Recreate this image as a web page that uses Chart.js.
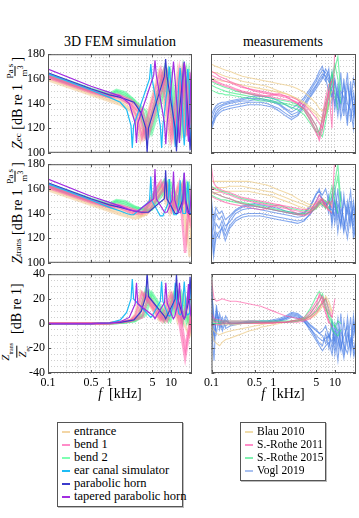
<!DOCTYPE html>
<html>
<head>
<meta charset="utf-8">
<title>Z_ec and Z_trans: simulation vs. measurements</title>
<script src="https://cdn.jsdelivr.net/npm/chart.js@4.4.1/dist/chart.umd.min.js"></script>
<style>
  html, body { margin: 0; padding: 0; background: #fff; }
  body { width: 359px; height: 518px; position: relative; overflow: hidden;
         font-family: "Liberation Serif", "DejaVu Serif", serif; color: #000; }
  canvas { position: absolute; }
  .txt { position: absolute; white-space: nowrap; }
  .title { font-size: 14px; top: 34px; transform: translateX(-50%); }
  .xlab { font-size: 14px; top: 386px; transform: translateX(-50%); }
  .ylab { font-size: 14px; left: 17px; transform: translate(-50%, -50%) rotate(-90deg);
          display: flex; align-items: center; }
  .frac { display: inline-flex; flex-direction: column; align-items: center;
          font-size: 9px; line-height: 9px; margin: 0 2px; }
  .frac span + span { border-top: 0.8px solid #000; }
  .frac.big { font-size: 11px; line-height: 11px; }
  .legend { position: absolute; border: 1px solid #555; background: #fff;
            line-height: 13px; padding: 2px 4px 4px 4px; box-sizing: border-box;
            box-shadow: 1px 1px 0 #bbb; }
  .legend div { white-space: nowrap; }
  .legend i { display: inline-block; width: 8px; height: 2px; vertical-align: middle; margin-right: 4px; }
</style>
</head>
<body>

<div class="txt title" style="left:120px">3D FEM simulation</div>
<div class="txt title" style="left:283px">measurements</div>

<div class="txt ylab" style="top:103px"><i>Z</i><sub style="font-size:9px">ec</sub>&nbsp;[dB re 1&nbsp;<span class="frac"><span>Pa s</span><span>m<sup>3</sup></span></span>]</div>
<div class="txt ylab" style="top:213px"><i>Z</i><sub style="font-size:9px">trans</sub>&nbsp;[dB re 1&nbsp;<span class="frac"><span>Pa s</span><span>m<sup>3</sup></span></span>]</div>
<div class="txt ylab" style="top:323px"><span class="frac big"><span><i>Z</i><sub style="font-size:6px">trans</sub></span><span><i>Z</i><sub style="font-size:6px">ec</sub></span></span>&nbsp;&nbsp;[dB re 1]</div>

<canvas id="simZec" width="196" height="119" style="left:0;top:44px"></canvas>
<canvas id="simZtrans" width="196" height="119" style="left:0;top:154px"></canvas>
<canvas id="simRatio" width="196" height="133" style="left:0;top:264px"></canvas>
<canvas id="measZec" width="158" height="119" style="left:201px;top:44px"></canvas>
<canvas id="measZtrans" width="158" height="119" style="left:201px;top:154px"></canvas>
<canvas id="measRatio" width="158" height="133" style="left:201px;top:264px"></canvas>

<div class="txt xlab" style="left:120px"><i>f</i> &nbsp;[kHz]</div>
<div class="txt xlab" style="left:283px"><i>f</i> &nbsp;[kHz]</div>

<div class="legend" style="left:57px;top:422px;width:126px;height:85px;font-size:12.5px">
  <div><i style="background:#f3d6a6"></i>entrance</div>
  <div><i style="background:#ff8cc8"></i>bend 1</div>
  <div><i style="background:#7effb2"></i>bend 2</div>
  <div><i style="background:#1ebcf5"></i>ear canal simulator</div>
  <div><i style="background:#3b3bcc"></i>parabolic horn</div>
  <div><i style="background:#a12de0"></i>tapered parabolic horn</div>
</div>
<div class="legend" style="left:240px;top:422px;width:86px;height:59px;font-size:11.5px">
  <div><i style="background:#f0dcaa"></i>Blau 2010</div>
  <div><i style="background:#ff8cc8"></i>S.-Rothe 2011</div>
  <div><i style="background:#80f0b0"></i>S.-Rothe 2015</div>
  <div><i style="background:#a9c1f0"></i>Vogl 2019</div>
</div>

<script>
// axis grid and tick labels
const xGrid = [0.1, 0.2, 0.3, 0.4, 0.5, 0.6, 0.7, 0.8, 0.9, 1, 2, 3, 4, 5, 6, 7, 8, 9, 10, 20];
const xTickLabels = [0.1, 0.5, 1, 5, 10];
const zTickLabels = [100, 120, 140, 160, 180];
const ratioTickLabels = [-40, -20, 0, 20, 40];

// ---- 3D FEM simulation (f in kHz, values in dB) ----
const ecsF = [0.1, 0.5, 1, 1.5, 1.9, 2.24, 2.35, 2.47, 4.48, 4.7, 4.94, 6.71, 7.05, 7.4, 8.95, 9.4, 9.87, 11.19, 11.75, 12.34, 13.43, 14.1, 14.8, 15.67, 16.45, 17.27, 17.9, 18.8, 19.74, 20.14, 21.15, 22];
const ecsZec = [164, 151, 145, 141, 135, 122, 104, 122, 160, 172, 160, 122, 104, 122, 158, 170, 158, 122, 105, 122, 157, 169, 157, 123, 106, 123, 156, 168, 156, 124, 107, 124];
const ecsZtrans = [164, 151, 145, 142, 140, 139, 139, 139, 150, 170, 150, 138, 138, 138, 148, 168, 148, 139, 139, 139, 149, 167, 149, 140, 140, 140, 150, 166, 150, 141, 141, 141];
const ecsRatio = [0, 0, 0.5, 3, 9, 20, 36, 20, 6, 5, 6, 18, 34, 18, 7, 6, 7, 18, 33, 18, 8, 7, 8, 19, 34, 19, 8, 7, 8, 18, 32, 18];

const phF = [0.1, 0.5, 1, 1.5, 2.5, 3.3, 3.9, 4.1, 4.31, 7.81, 8.2, 8.61, 11.71, 12.3, 12.92, 15.62, 16.4, 17.22, 19.52, 20.5, 21.5, 22];
const phZec = [165, 152, 147, 145, 141, 132, 120, 100, 120, 162, 176, 162, 120, 101, 120, 162, 174, 162, 121, 102, 121, 128];
const phZtrans = [165, 152, 147, 145, 142, 141, 141, 141, 141, 152, 175, 152, 140, 140, 140, 151, 173, 151, 140, 140, 140, 141];
const phRatio = [0, 0, 0.5, 1, 3, 10, 22, 42, 22, 6, 4, 6, 20, 40, 20, 6, 4, 6, 19, 38, 19, 13];

const tphF = [0.1, 0.5, 1, 1.5, 2.1, 2.62, 2.75, 2.89, 5.24, 5.5, 5.78, 7.86, 8.25, 8.66, 10.48, 11, 11.55, 13.1, 13.75, 14.44, 15.71, 16.5, 17.33, 18.33, 19.25, 20.21, 21, 22];
const tphZec = [168, 154, 149, 146, 140, 124, 108, 124, 163, 175, 163, 124, 107, 124, 162, 174, 162, 125, 108, 125, 161, 173, 161, 125, 109, 125, 160, 172];
const tphZtrans = [168, 154, 149, 146, 143, 142, 142, 142, 152, 176, 152, 141, 141, 141, 151, 174, 151, 141, 141, 141, 150, 173, 150, 141, 141, 141, 150, 172];
const tphRatio = [0, 0, 0.5, 1.5, 5, 16, 33, 16, 6, 4, 6, 17, 33, 17, 6, 4, 6, 17, 33, 17, 6, 4, 6, 17, 32, 17, 7, 4];

const ent1F = [0.1, 0.5, 1, 1.5, 2.2, 2.6, 3.2, 6.4, 9.6, 12.8, 16, 19.2, 22];
const ent1Zec = [159, 147, 142, 139, 134, 128, 110, 166, 111, 165, 112, 164, 120];
const ent1Ztrans = [159, 147, 142, 139, 137, 136, 137, 164, 140, 162, 140, 160, 110];
const ent1Ratio = [0, 0, 0.3, 1, 3, 7, 26, 3, 25, 2, 24, 0, -10];

const ent2F = [0.1, 0.5, 1, 1.5, 2.2, 2.9, 3.6, 7.2, 10.8, 14.4, 18, 21.6, 22];
const ent2Zec = [160.5, 148.5, 143.5, 141, 136, 129, 112, 164, 113, 163, 114, 162, 150];
const ent2Ztrans = [160.5, 148.5, 143.5, 141, 139, 138, 138, 162, 141, 160, 120, 155, 150];
const ent2Ratio = [0, 0, 0.3, 1, 2.5, 6, 24, 2, 24, 1, 6, -5, 0];

const ent3F = [0.1, 0.5, 1, 1.5, 2.2, 3.2, 4, 8, 12, 16, 20, 22];
const ent3Zec = [162, 150, 145, 143, 139, 131, 113, 165, 114, 164, 115, 135];
const ent3Ztrans = [162, 150, 145, 143, 141, 139, 139, 163, 142, 161, 105, 130];
const ent3Ratio = [0, 0, 0.2, 0.8, 2, 6, 26, 2, 25, 1, -10, -5];

const bendA1F = [0.1, 0.5, 1, 1.4, 2.2, 2.7, 3.4, 6.8, 10.2, 13.6, 17, 20.4, 22];
const bendA1Zec = [161, 149, 145, 145, 139, 131, 112, 167, 112, 166, 113, 165, 140];
const bendA1Ztrans = [161, 149, 145, 145, 141, 140, 140, 166, 142, 164, 108, 160, 145];
const bendA1Ratio = [0, 0, 0.3, 1, 2.5, 7, 25, 3, 24, 2, -28, -3, 5];

const bendA2F = [0.1, 0.5, 1, 1.4, 2.2, 3, 3.8, 7.6, 11.4, 15.2, 19, 22];
const bendA2Zec = [162, 150, 146, 146.5, 141, 133, 113, 166, 113, 165, 114, 160];
const bendA2Ztrans = [162, 150, 146, 146.5, 143, 141, 141, 165, 143, 163, 140, 150];
const bendA2Ratio = [0, 0, 0.3, 1, 2.5, 6, 24, 2, 23, 1, 22, -8];

const bendA3F = [0.1, 0.5, 1, 1.4, 2.2, 3.4, 4.3, 8.6, 12.9, 17.2, 21.5, 22];
const bendA3Zec = [163, 151, 147, 147, 143, 135, 114, 165, 114, 164, 115, 125];
const bendA3Ztrans = [163, 151, 147, 147, 144, 141, 141, 164, 143, 150, 130, 135];
const bendA3Ratio = [0, 0, 0.2, 0.8, 2, 5, 22, 2, 22, -20, 8, 5];

const bendB1F = [0.1, 0.5, 1, 1.3, 1.8, 2.6, 3.6, 4.5, 9, 13.5, 18, 22];
const bendB1Zec = [162, 150, 146, 149, 146, 140, 132, 115, 167, 115, 166, 130];
const bendB1Ztrans = [162, 150, 146, 149, 147, 144, 142, 142, 166, 144, 164, 140];
const bendB1Ratio = [0, 0, 0.2, 0.5, 1, 2, 8, 26, 2, 26, 1, 14];

const bendB2F = [0.1, 0.5, 1, 1.3, 1.8, 2.6, 3.9, 4.9, 9.8, 14.7, 19.6, 22];
const bendB2Zec = [163, 151, 147, 150, 147.5, 142, 134, 116, 166, 116, 165, 140];
const bendB2Ztrans = [163, 151, 147, 150, 148.5, 145, 143, 143, 165, 145, 163, 145];
const bendB2Ratio = [0, 0, 0.2, 0.5, 1, 2, 7, 25, 2, 25, 1, 8];

const bendB3F = [0.1, 0.5, 1, 1.3, 1.8, 2.5, 3.1, 3.9, 7.8, 11.7, 15.6, 19.5, 22];
const bendB3Zec = [164, 152, 148, 151, 149, 143, 135, 114, 168, 114, 167, 115, 145];
const bendB3Ztrans = [164, 152, 148, 151, 150, 146, 144, 144, 167, 145, 165, 146, 150];
const bendB3Ratio = [0, 0, 0.2, 0.5, 1, 2.5, 8, 28, 2, 27, 1, 26, 6];

// ---- measurements (shared frequency grid, kHz) ----
const measF = [0.1, 0.11, 0.12, 0.135, 0.15, 0.17, 0.2, 0.25, 0.32, 0.4, 0.5, 0.63, 0.8, 1, 1.25, 1.6, 2, 2.5, 3.2, 4, 5, 5.6, 6.3, 7.1, 8, 9, 10, 11.2, 12.5, 14, 16, 18, 20, 22];

const vogl1Zec = [120, 128, 133, 136, 138, 139, 140, 141, 142, 142, 143, 143, 142, 141, 139, 135, 131, 133, 140, 148, 155, 160, 164, 162, 158, 150, 140, 155, 135, 160, 128, 150, 138, 125];
const vogl2Zec = [126, 132, 136, 138, 139, 140, 141, 142, 143, 144, 144, 144, 143, 142, 140, 136, 133, 136, 143, 150, 158, 163, 167, 165, 160, 145, 158, 138, 165, 130, 155, 140, 160, 150];
const vogl3Zec = [118, 124, 129, 132, 134, 135, 136, 137, 138, 139, 139, 139, 138, 137, 134, 130, 127, 130, 137, 145, 152, 156, 160, 168, 163, 155, 148, 130, 150, 145, 122, 158, 130, 145];
const vogl4Zec = [130, 135, 138, 140, 141, 141, 142, 143, 144, 145, 146, 146, 145, 144, 142, 139, 136, 139, 145, 152, 160, 166, 170, 160, 150, 165, 135, 150, 128, 140, 165, 125, 148, 135];
const vogl5Zec = [122, 126, 131, 134, 136, 137, 138, 139, 140, 141, 141, 141, 140, 138, 136, 132, 129, 131, 139, 146, 154, 158, 162, 158, 168, 140, 160, 145, 140, 155, 140, 135, 120, 160];
const rothe11aZec = [163, 162, 161, 160, 159, 158, 157, 155, 153, 152, 151, 150, 149, 148, 147, 146, 145, 143, 138, 130, 122, 115, 125, 140, 150, 120, 185];
const rothe11bZec = [160, 159, 158, 157, 156, 155, 154, 152, 150, 149, 148, 147, 146, 145, 144, 143, 142, 140, 135, 126, 116, 112, 130, 145, 155, 158];
const rothe11cZec = [166, 165, 164, 162, 161, 160, 158, 156, 154, 152, 150, 149, 148, 147, 146, 145, 143, 141, 139, 134, 128, 124, 120, 132, 148, 160];
const rothe11dZec = [158, 158, 157, 156, 155, 154, 153, 151, 149, 148, 147, 146, 146, 147, 148, 146, 143, 140, 136, 128, 118, 110, 118, 135, 150];
const rothe15aZec = [158, 157, 156, 155, 154, 153, 152, 150, 149, 148, 147, 146, 145, 144, 143, 142, 141, 139, 136, 130, 122, 116, 113, 125, 140, 155, 168, 178, 150];
const rothe15bZec = [155, 154, 153, 152, 151, 150, 149, 148, 147, 146, 145, 144, 143, 142, 141, 140, 139, 138, 134, 127, 118, 114, 120, 132, 145, 160, 172, 160, 140];
const rothe15cZec = [151, 150, 149, 148, 148, 147, 147, 146, 145, 144, 143, 142, 142, 141, 140, 139, 137, 135, 131, 124, 117, 118, 128, 140, 152, 165, 150, 135];
const blau1Zec = [172, 171, 170, 169, 168, 167, 166, 164, 162, 161, 160, 159, 158, 157, 156, 155, 154, 152, 149, 145, 140, 136, 134, 138, 145, 150];
const blau2Zec = [166, 165, 165, 164, 163, 162, 161, 160, 158, 157, 156, 155, 154, 152, 150, 148, 146, 144, 141, 137, 133, 130, 128, 132, 140];
const blau3Zec = [160, 160, 159, 159, 158, 158, 157, 156, 155, 154, 153, 152, 151, 150, 149, 148, 146, 143, 140, 135, 131, 127, 125, 130, 138, 145];

const vogl1Ztrans = [150, 128, 140, 135, 138, 130, 133, 140, 143, 144, 144, 143, 142, 141, 140, 139, 138, 137, 138, 142, 150, 155, 152, 148, 145, 140, 150, 135, 158, 128, 150, 135, 145, 125];
const vogl2Ztrans = [140, 118, 132, 128, 134, 126, 136, 142, 145, 146, 146, 145, 144, 143, 142, 141, 140, 139, 140, 145, 155, 160, 150, 145, 150, 135, 160, 140, 130, 155, 128, 150, 120, 140];
const vogl3Ztrans = [135, 110, 125, 120, 130, 122, 130, 136, 139, 140, 140, 140, 139, 138, 137, 136, 135, 134, 135, 139, 147, 150, 146, 150, 140, 155, 132, 148, 140, 125, 145, 130, 150, 135];
const vogl4Ztrans = [155, 135, 145, 140, 142, 135, 138, 143, 146, 147, 148, 147, 146, 145, 144, 142, 141, 140, 141, 146, 156, 158, 155, 160, 150, 142, 138, 160, 130, 150, 140, 158, 130, 150];
const vogl5Ztrans = [128, 105, 120, 125, 128, 118, 128, 134, 137, 138, 138, 138, 137, 136, 135, 134, 133, 132, 134, 140, 145, 148, 152, 145, 155, 130, 150, 125, 145, 135, 120, 140, 128, 118];
const rothe11aZtrans = [180, 165, 162, 160, 159, 158, 157, 155, 153, 152, 151, 150, 149, 148, 147, 146, 145, 144, 143, 144, 148, 152, 150, 148, 150, 145, 185];
const rothe11bZtrans = [162, 160, 159, 158, 157, 156, 155, 153, 151, 150, 149, 148, 147, 146, 145, 144, 143, 142, 141, 142, 146, 150, 148, 145, 148, 150];
const rothe11cZtrans = [158, 157, 156, 155, 154, 153, 152, 150, 148, 147, 146, 145, 144, 143, 142, 141, 140, 139, 138, 140, 145, 148, 152, 147, 143, 140];
const rothe11dZtrans = [154, 153, 152, 151, 150, 149, 148, 147, 146, 145, 144, 143, 144, 146, 147, 145, 142, 140, 139, 141, 150, 155, 150, 146, 142];
const rothe15aZtrans = [162, 161, 160, 159, 158, 157, 156, 154, 152, 151, 150, 149, 148, 147, 146, 145, 144, 143, 142, 143, 146, 150, 152, 150, 148, 155, 165, 180, 150];
const rothe15bZtrans = [158, 157, 156, 155, 154, 153, 152, 150, 149, 148, 147, 146, 145, 144, 143, 142, 141, 140, 140, 141, 144, 147, 150, 146, 144, 150, 158, 170, 145];
const rothe15cZtrans = [155, 154, 153, 152, 151, 151, 150, 149, 148, 147, 146, 145, 144, 143, 142, 141, 140, 139, 139, 141, 145, 149, 147, 144, 150, 162, 150, 140];
const blau1Ztrans = [166, 166, 166, 166, 166, 166, 166, 166, 166, 166, 165, 164, 163, 161, 159, 157, 155, 152, 149, 147, 148, 150, 152, 150, 148, 147];
const blau2Ztrans = [160, 160, 161, 161, 161, 161, 162, 162, 162, 161, 160, 159, 158, 157, 155, 153, 151, 149, 147, 145, 146, 148, 147, 146, 145];
const blau3Ztrans = [156, 156, 157, 157, 158, 158, 158, 158, 158, 158, 157, 156, 155, 154, 152, 150, 148, 146, 144, 142, 144, 146, 148, 145, 143, 141];

const vogl1Ratio = [30, 0, 8, -2, 5, -4, -2, -1, 0, 1, 1, 1, 1, 1, 2, 4, 6, 5, 2, -4, -10, -12, -14, -12, -10, -15, 0, -20, 8, -25, 5, -18, 0, -15];
const vogl2Ratio = [10, -10, 12, 0, -3, 6, -1, 0, 1, 1, 1, 2, 2, 2, 3, 5, 8, 7, 3, -2, -6, -8, -10, -16, -8, -20, -5, -12, -22, 2, -18, 5, -25, -10];
const vogl3Ratio = [20, -15, 5, 5, -6, 2, 0, 0, 0, 0, 0, 0, 1, 1, 2, 3, 5, 4, 1, -4, -12, -16, -18, -8, -20, 3, -25, -5, -15, -28, -8, -20, 6, -12];
const vogl4Ratio = [-5, -30, 15, -5, 2, -2, 1, 1, 1, 2, 2, 2, 2, 3, 4, 6, 9, 8, 4, -1, -5, -8, -6, -2, -12, 0, -15, 4, -20, -10, -2, -25, -8, 4];
const vogl5Ratio = [25, 5, -8, 8, 0, 3, -1, 0, 0, 1, 1, 1, 1, 2, 3, 4, 7, 6, 2, -6, -14, -18, -22, -18, -15, -25, -10, -30, -5, -18, -24, -12, -20, -30];
const rothe11aRatio = [35, 20, 18, 19, 20, 19, 18, 18, 17, 16, 15, 14, 12, 10, 8, 6, 5, 4, 3, 6, 12, 18, 22, 15, 8, 5, 20];
const rothe11bRatio = [5, 2, 1, 1, 1, 1, 1, 1, 1, 1, 1, 1, 1, 1, 1, 1, 2, 2, 3, 8, 15, 24, 20, 10, 2, -3];
const rothe11cRatio = [-2, -1, -1, -1, 0, 0, 0, 0, 0, 0, 0, 0, 0, 0, 1, 1, 1, 1, 2, 4, 9, 12, 18, 20, 12, 5];
const rothe11dRatio = [8, 4, 3, 3, 2, 2, 2, 2, 2, 2, 2, 1, 1, 1, 1, 1, 2, 3, 5, 10, 18, 22, 16, 8, 0];
const rothe15aRatio = [4, 3, 3, 2, 2, 2, 2, 2, 2, 2, 2, 2, 2, 2, 2, 2, 2, 3, 5, 12, 22, 26, 20, 12, 6, 0, -3, 2, 0];
const rothe15bRatio = [2, 2, 2, 1, 1, 1, 1, 1, 1, 1, 1, 1, 1, 1, 1, 1, 2, 2, 4, 8, 15, 18, 24, 14, 4, -5, -8, -10, -5];
const rothe15cRatio = [0, 0, 0, 0, 0, 0, 0, 0, 0, 0, 1, 1, 1, 1, 1, 1, 1, 2, 3, 6, 10, 14, 16, 20, 10, 2, -2, -6];
const blau1Ratio = [-6, -14, -16, -18, -15, -13, -12, -10, -8, -6, -5, -3, -2, -1, 0, 1, 2, 3, 4, 6, 10, 14, 18, 20, 15, 8];
const blau2Ratio = [-2, -6, -8, -9, -8, -7, -6, -5, -4, -3, -2, -1, 0, 0, 1, 1, 2, 2, 3, 5, 8, 10, 14, 12, 8];
const blau3Ratio = [2, 1, 0, -1, -1, -1, -1, -1, 0, 0, 0, 0, 0, 1, 1, 1, 2, 2, 3, 4, 7, 12, 16, 22, 18, 10];

// colours
const cEnt = 'rgba(240, 196, 140, 0.55)';
const cBend1 = 'rgba(255, 90, 170, 0.55)';
const cBend2 = 'rgba(70, 245, 140, 0.55)';
const cEcs = '#1ebcf5';
const cPh = '#3b3bcc';
const cTph = '#a12de0';
const cBlau = 'rgba(238, 205, 140, 0.75)';
const cRothe11 = 'rgba(255, 80, 160, 0.6)';
const cRothe15 = 'rgba(40, 235, 120, 0.6)';
const cVogl = 'rgba(70, 125, 230, 0.65)';

Chart.defaults.font.family = '"Liberation Serif", "DejaVu Serif", serif';
Chart.defaults.font.size = 12;
Chart.defaults.color = '#000';

// box around each plot area, with short inward ticks at the labelled values
const frame = {
  id: 'frame',
  afterDraw(chart) {
    const { ctx, chartArea: a, scales } = chart;
    const yLabels = chart.options.plugins.frame.yLabels;
    ctx.save();
    ctx.strokeStyle = '#555';
    ctx.lineWidth = 1;
    ctx.strokeRect(a.left + 0.5, a.top + 0.5, a.right - a.left - 1, a.bottom - a.top - 1);
    ctx.beginPath();
    yLabels.forEach(v => {
      const py = Math.round(scales.y.getPixelForValue(v)) + 0.5;
      ctx.moveTo(a.left, py); ctx.lineTo(a.left + 3, py);
      ctx.moveTo(a.right, py); ctx.lineTo(a.right - 3, py);
    });
    xTickLabels.forEach(v => {
      const px = Math.round(scales.x.getPixelForValue(v)) + 0.5;
      ctx.moveTo(px, a.bottom); ctx.lineTo(px, a.bottom - 3);
      ctx.moveTo(px, a.top); ctx.lineTo(px, a.top + 3);
    });
    ctx.stroke();
    ctx.restore();
  }
};

function curve(f, y, color, width) {
  return {
    data: y.map((v, i) => ({ x: f[i], y: v })),
    showLine: true,
    borderColor: color,
    borderWidth: width,
    pointRadius: 0,
    fill: false
  };
}

function makeChart(id, datasets, yMin, yMax, yLabels, leftCol, bottomRow) {
  return new Chart(document.getElementById(id), {
    type: 'scatter',
    data: { datasets: datasets },
    options: {
      responsive: false,
      animation: false,
      events: [],
      layout: { padding: { top: 10, right: leftCol ? 4 : 3, bottom: bottomRow ? 4 : 10, left: 0 } },
      plugins: { legend: { display: false }, tooltip: { enabled: false }, frame: { yLabels: yLabels } },
      scales: {
        x: {
          type: 'logarithmic',
          min: 0.1,
          max: 22,
          afterBuildTicks: s => { s.ticks = xGrid.map(v => ({ value: v })); },
          afterFit: s => { s.height = bottomRow ? 20 : 0; },
          ticks: {
            display: bottomRow, autoSkip: false, maxRotation: 0, padding: 3,
            callback: v => xTickLabels.includes(v) ? String(v) : ''
          },
          grid: { color: '#c4c4c4', drawTicks: false, lineWidth: 0.8 },
          border: { display: false, dash: [1, 2] }
        },
        y: {
          min: yMin,
          max: yMax,
          afterFit: s => { s.width = leftCol ? 48 : 10; },
          ticks: {
            display: leftCol, stepSize: 5, autoSkip: false, padding: 3,
            callback: v => yLabels.includes(v) ? String(v) : ''
          },
          grid: { color: '#c4c4c4', drawTicks: false, lineWidth: 0.8 },
          border: { display: false, dash: [1, 2] }
        }
      }
    },
    plugins: [frame]
  });
}

const bandW = 2.5, lineW = 1.2, measW = 1.1;

makeChart('simZec', [
  curve(tphF, tphZec, cTph, lineW),
  curve(phF, phZec, cPh, lineW),
  curve(ecsF, ecsZec, cEcs, lineW),
  curve(bendA1F, bendA1Zec, cBend1, bandW),
  curve(bendA2F, bendA2Zec, cBend1, bandW),
  curve(bendA3F, bendA3Zec, cBend1, bandW),
  curve(bendB1F, bendB1Zec, cBend2, bandW),
  curve(bendB2F, bendB2Zec, cBend2, bandW),
  curve(bendB3F, bendB3Zec, cBend2, bandW),
  curve(ent1F, ent1Zec, cEnt, bandW),
  curve(ent2F, ent2Zec, cEnt, bandW),
  curve(ent3F, ent3Zec, cEnt, bandW)
], 100, 180, zTickLabels, true, false);

makeChart('simZtrans', [
  curve(tphF, tphZtrans, cTph, lineW),
  curve(phF, phZtrans, cPh, lineW),
  curve(ecsF, ecsZtrans, cEcs, lineW),
  curve(bendA1F, bendA1Ztrans, cBend1, bandW),
  curve(bendA2F, bendA2Ztrans, cBend1, bandW),
  curve(bendA3F, bendA3Ztrans, cBend1, bandW),
  curve(bendB1F, bendB1Ztrans, cBend2, bandW),
  curve(bendB2F, bendB2Ztrans, cBend2, bandW),
  curve(bendB3F, bendB3Ztrans, cBend2, bandW),
  curve(ent1F, ent1Ztrans, cEnt, bandW),
  curve(ent2F, ent2Ztrans, cEnt, bandW),
  curve(ent3F, ent3Ztrans, cEnt, bandW)
], 100, 180, zTickLabels, true, false);

makeChart('simRatio', [
  curve(tphF, tphRatio, cTph, lineW),
  curve(phF, phRatio, cPh, lineW),
  curve(ecsF, ecsRatio, cEcs, lineW),
  curve(bendA1F, bendA1Ratio, cBend1, bandW),
  curve(bendA2F, bendA2Ratio, cBend1, bandW),
  curve(bendA3F, bendA3Ratio, cBend1, bandW),
  curve(bendB1F, bendB1Ratio, cBend2, bandW),
  curve(bendB2F, bendB2Ratio, cBend2, bandW),
  curve(bendB3F, bendB3Ratio, cBend2, bandW),
  curve(ent1F, ent1Ratio, cEnt, bandW),
  curve(ent2F, ent2Ratio, cEnt, bandW),
  curve(ent3F, ent3Ratio, cEnt, bandW)
], -40, 40, ratioTickLabels, true, true);

makeChart('measZec', [
  curve(measF, rothe11aZec, cRothe11, measW),
  curve(measF, rothe11bZec, cRothe11, measW),
  curve(measF, rothe11cZec, cRothe11, measW),
  curve(measF, rothe11dZec, cRothe11, measW),
  curve(measF, rothe15aZec, cRothe15, measW),
  curve(measF, rothe15bZec, cRothe15, measW),
  curve(measF, rothe15cZec, cRothe15, measW),
  curve(measF, blau1Zec, cBlau, measW),
  curve(measF, blau2Zec, cBlau, measW),
  curve(measF, blau3Zec, cBlau, measW),
  curve(measF, vogl1Zec, cVogl, measW),
  curve(measF, vogl2Zec, cVogl, measW),
  curve(measF, vogl3Zec, cVogl, measW),
  curve(measF, vogl4Zec, cVogl, measW),
  curve(measF, vogl5Zec, cVogl, measW)
], 100, 180, zTickLabels, false, false);

makeChart('measZtrans', [
  curve(measF, rothe11aZtrans, cRothe11, measW),
  curve(measF, rothe11bZtrans, cRothe11, measW),
  curve(measF, rothe11cZtrans, cRothe11, measW),
  curve(measF, rothe11dZtrans, cRothe11, measW),
  curve(measF, rothe15aZtrans, cRothe15, measW),
  curve(measF, rothe15bZtrans, cRothe15, measW),
  curve(measF, rothe15cZtrans, cRothe15, measW),
  curve(measF, blau1Ztrans, cBlau, measW),
  curve(measF, blau2Ztrans, cBlau, measW),
  curve(measF, blau3Ztrans, cBlau, measW),
  curve(measF, vogl1Ztrans, cVogl, measW),
  curve(measF, vogl2Ztrans, cVogl, measW),
  curve(measF, vogl3Ztrans, cVogl, measW),
  curve(measF, vogl4Ztrans, cVogl, measW),
  curve(measF, vogl5Ztrans, cVogl, measW)
], 100, 180, zTickLabels, false, false);

makeChart('measRatio', [
  curve(measF, rothe11aRatio, cRothe11, measW),
  curve(measF, rothe11bRatio, cRothe11, measW),
  curve(measF, rothe11cRatio, cRothe11, measW),
  curve(measF, rothe11dRatio, cRothe11, measW),
  curve(measF, rothe15aRatio, cRothe15, measW),
  curve(measF, rothe15bRatio, cRothe15, measW),
  curve(measF, rothe15cRatio, cRothe15, measW),
  curve(measF, blau1Ratio, cBlau, measW),
  curve(measF, blau2Ratio, cBlau, measW),
  curve(measF, blau3Ratio, cBlau, measW),
  curve(measF, vogl1Ratio, cVogl, measW),
  curve(measF, vogl2Ratio, cVogl, measW),
  curve(measF, vogl3Ratio, cVogl, measW),
  curve(measF, vogl4Ratio, cVogl, measW),
  curve(measF, vogl5Ratio, cVogl, measW)
], -40, 40, ratioTickLabels, false, true);
</script>
</body>
</html>
